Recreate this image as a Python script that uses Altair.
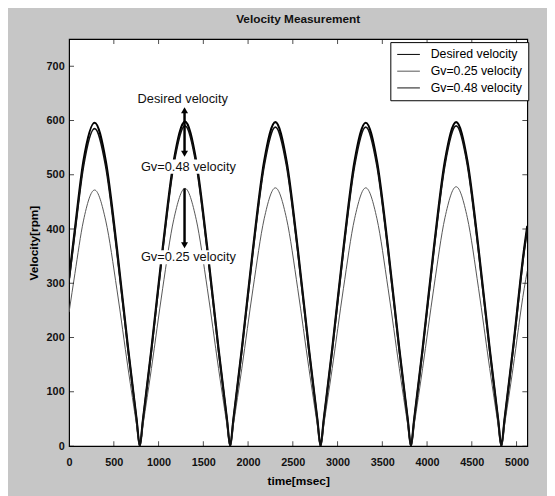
import altair as alt
import pandas as pd

# ---- data ----
time_ms = [0, 65, 160, 285, 410, 535, 660, 755, 790, 825, 920, 1045, 1170, 1295, 1420, 1545,
           1670, 1765, 1800, 1835, 1930, 2055, 2180, 2305, 2430, 2555, 2680, 2775, 2810, 2845,
           2940, 3065, 3190, 3315, 3440, 3565, 3690, 3785, 3820, 3855, 3950, 4075, 4200, 4325,
           4450, 4575, 4700, 4795, 4830, 4865, 4960, 5085, 5120]

desired = [310, 400, 525, 596, 525, 364, 179, 48, 0, 48, 179, 364, 526, 598, 526, 364,
           179, 48, 0, 48, 179, 364, 525, 597, 525, 364, 179, 48, 0, 48,
           179, 364, 525, 596, 525, 364, 179, 48, 0, 48, 179, 364, 526, 597,
           526, 364, 179, 48, 0, 48, 179, 364, 406]

gv048 = [306, 394, 515, 585, 515, 357, 176, 47, 0, 47, 176, 359, 519, 590, 519, 359,
         176, 47, 0, 47, 176, 359, 517, 588, 517, 359, 176, 47, 0, 47,
         176, 359, 517, 588, 517, 359, 176, 47, 0, 47, 176, 359, 519, 590,
         519, 359, 176, 47, 0, 47, 176, 359, 400]

gv025 = [247, 318, 415, 472, 415, 288, 142, 38, 0, 38, 143, 290, 418, 475, 418, 290,
         143, 38, 0, 38, 143, 290, 419, 476, 419, 290, 143, 38, 0, 38,
         143, 290, 419, 476, 419, 290, 143, 38, 0, 38, 143, 291, 421, 478,
         421, 291, 143, 38, 0, 38, 143, 290, 323]

series_names = ["Desired velocity", "Gv=0.25 velocity", "Gv=0.48 velocity"]
series_colors = ["#000000", "#555555", "#111111"]
series_widths = [2.2, 1.0, 1.8]

x_ticks = [0, 500, 1000, 1500, 2000, 2500, 3000, 3500, 4000, 4500, 5000]
y_ticks = [0, 100, 200, 300, 400, 500, 600, 700]

note_text = ["Desired velocity", "Gv=0.48 velocity", "Gv=0.25 velocity"]
note_x = [1270, 1333, 1333]
note_y = [639, 515, 348]

arrow_x = [1290, 1290]
arrow_y1 = [539, 370]
arrow_y2 = [619, 475]
head_x = [1290, 1290, 1290]
head_y = [619, 539, 370]
head_shape = ["triangle-up", "triangle-down", "triangle-down"]

# ---- build tables ----
W, H = 465, 413
FONT = "Liberation Sans"

xs = alt.Scale(domain=[0, 5120], nice=False)
ys = alt.Scale(domain=[0, 750], nice=False)
cs = alt.Scale(domain=series_names, range=series_colors)

x_axis = alt.Axis(values=x_ticks, title="time[msec]", grid=False, ticks=False, format="d",
                  labelFontSize=11, labelFontWeight="bold", labelColor="#111",
                  titleFontSize=12, titleFontWeight="bold", titlePadding=8,
                  labelPadding=11, domain=False, labelFlush=False)
y_axis = alt.Axis(values=y_ticks, title="Velocity[rpm]", grid=False, ticks=False,
                  labelFontSize=11, labelFontWeight="bold", labelColor="#111",
                  titleFontSize=12, titleFontWeight="bold", titlePadding=6,
                  labelPadding=5, domain=False)
legend = alt.Legend(title=None, orient="none", legendX=326, legendY=3,
                    symbolType="stroke", symbolSize=530, symbolStrokeWidth=1,
                    labelFontSize=12.5, labelFont=FONT, labelColor="#000",
                    strokeColor="#000", fillColor="white", padding=6,
                    rowPadding=4, clipHeight=13, labelOffset=10, cornerRadius=0)

layers = []
for i, (name, vals) in enumerate(zip(series_names, [desired, gv025, gv048])):
    d = pd.DataFrame({"time": time_ms, "value": vals, "series": [name] * len(vals)})
    layers.append(
        alt.Chart(d).mark_line(interpolate="monotone", clip=True, strokeWidth=series_widths[i]).encode(
            x=alt.X("time:Q", scale=xs, axis=x_axis),
            y=alt.Y("value:Q", scale=ys, axis=y_axis),
            color=alt.Color("series:N", scale=cs, legend=legend),
        )
    )

tx = pd.DataFrame({"t": x_ticks})
ty = pd.DataFrame({"v": y_ticks})
tick_top = alt.Chart(tx).mark_tick(orient="vertical", size=10, thickness=1, color="black", clip=True).encode(
    x=alt.X("t:Q", scale=xs, axis=x_axis), y=alt.value(0))
tick_bot = alt.Chart(tx).mark_tick(orient="vertical", size=10, thickness=1, color="black", clip=True).encode(
    x=alt.X("t:Q", scale=xs, axis=x_axis), y=alt.value(H))
tick_left = alt.Chart(ty).mark_tick(orient="horizontal", size=10, thickness=1, color="black", clip=True).encode(
    y=alt.Y("v:Q", scale=ys, axis=y_axis), x=alt.value(0))
tick_right = alt.Chart(ty).mark_tick(orient="horizontal", size=10, thickness=1, color="black", clip=True).encode(
    y=alt.Y("v:Q", scale=ys, axis=y_axis), x=alt.value(W))

notes_df = pd.DataFrame({"x": note_x, "y": note_y, "txt": note_text})
BOX_HALF_W = 560   # ms
BOX_HALF_H = 13    # rpm
notes_df["x1"] = notes_df["x"] - BOX_HALF_W
notes_df["x2"] = notes_df["x"] + BOX_HALF_W
notes_df["y1"] = notes_df["y"] - BOX_HALF_H
notes_df["y2"] = notes_df["y"] + BOX_HALF_H

note_bg = alt.Chart(notes_df).mark_rect(color="white").encode(
    x=alt.X("x1:Q", scale=xs, axis=x_axis), x2="x2:Q",
    y=alt.Y("y1:Q", scale=ys, axis=y_axis), y2="y2:Q")

notes = alt.Chart(notes_df).mark_text(font=FONT, fontSize=13, color="#111").encode(
    x=alt.X("x:Q", scale=xs, axis=x_axis), y=alt.Y("y:Q", scale=ys, axis=y_axis), text="txt:N")

shafts = alt.Chart(pd.DataFrame({"x": arrow_x, "y1": arrow_y1, "y2": arrow_y2})).mark_rule(
    color="black", strokeWidth=2.5).encode(
    x=alt.X("x:Q", scale=xs, axis=x_axis), y=alt.Y("y1:Q", scale=ys, axis=y_axis), y2="y2:Q")

heads = alt.Chart(pd.DataFrame({"x": head_x, "y": head_y, "shape": head_shape})).mark_point(
    filled=True, color="black", size=50, opacity=1).encode(
    x=alt.X("x:Q", scale=xs, axis=x_axis), y=alt.Y("y:Q", scale=ys, axis=y_axis),
    shape=alt.Shape("shape:N", scale=None))

chart = alt.layer(*layers, tick_top, tick_bot, tick_left, tick_right,
                  note_bg, shafts, heads, notes).properties(
    width=W, height=H,
    title=alt.TitleParams("Velocity Measurement", fontSize=12, fontWeight="bold", font=FONT,
                          anchor="middle", offset=13, color="#111"),
    autosize=alt.AutoSizeParams(type="none"),
    padding={"left": 62, "top": 28, "right": 20, "bottom": 47},
).configure(background="#c6c6c6", font=FONT).configure_view(
    fill="white", stroke="black", strokeWidth=1.2
).configure_axis(labelFont=FONT, titleFont=FONT)

chart.save("out.html", embed_options={"renderer": "svg", "actions": False})
